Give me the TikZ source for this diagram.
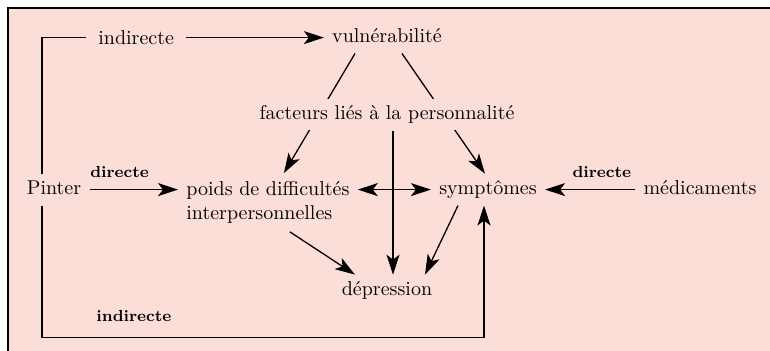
\documentclass[tikz,border=0pt]{standalone}
\usepackage{tikz}
\usetikzlibrary{arrows.meta,positioning,calc}
\definecolor{backdrop}{RGB}{252, 222, 217}
\tikzset{
    concept/.style={inner sep=4pt, text height=1.5ex, text depth=.25ex, fill=backdrop},
    block/.style={inner sep=4pt, align=left},
    tag/.style={font=\footnotesize\bfseries, inner sep=1pt},
    arrow/.style={line width=0.65pt, ->, >={Stealth[length=10pt, width=6.5pt, inset=2.5pt]}}
}

\begin{document}
\begin{tikzpicture}[x=0.5pt, y=-0.5pt]
        \useasboundingbox (0,0) rectangle (770,351);
        \fill [backdrop] (8,8) rectangle (770,351);
        \draw [line width=1pt] (8,351) -- (8,8) -- (770,8);

        \node (pin) [concept] at (54,189.6) {Pinter};
        \node (vul) [concept] at (387,37.6) {vulnérabilité};
        \node (poids) [block, anchor=west] at (178,202.5) {poids de difficultés\\interpersonnelles};
        \node (symp) [concept] at (488,189.6) {symptômes};
        \node (med) [concept] at (700,189.6) {médicaments};
        \node (dep) [concept] at (387,290.6) {dépression};

        % these two run behind the personality node
        \draw [arrow] ([xshift=-16pt]vul.south) -- ([xshift=8pt]poids.north);
        \draw [arrow] ([xshift=7.5pt]vul.south) -- ([xshift=-1.5pt]symp.north);
        \node (fact) [concept] at (387,114.6) {facteurs liés à la personnalité};

        \draw [arrow] (pin.east) -- node[tag, pos=0.34, above=4.5pt] {directe} (pin.east -| poids.west);
        \draw [arrow] (med) -- node[tag, pos=0.37, above=4.5pt] {directe} (symp);
        \draw [arrow, <->] (poids.east |- symp.west) -- (symp.west);
        \draw [arrow] ([xshift=3pt]fact.south) -- ([xshift=3pt]dep.north);
        \draw [arrow] ([xshift=11pt]poids.south) -- ([xshift=-16pt]dep.north);
        \draw [arrow] ([xshift=-15pt]symp.south) -- ([xshift=19pt]dep.north);

        % Indirect paths
        \draw [arrow] ([xshift=-6pt]pin.north) |- node[pos=0.667, fill=backdrop, inner xsep=6pt] {indirecte} (vul.west);
        \draw [arrow] ([xshift=-6pt]pin.south) -- ++(0,132) -| node[tag, pos=0.104, above=6.5pt] {indirecte} ([xshift=-2pt]symp.south);
\end{tikzpicture}
\end{document}
